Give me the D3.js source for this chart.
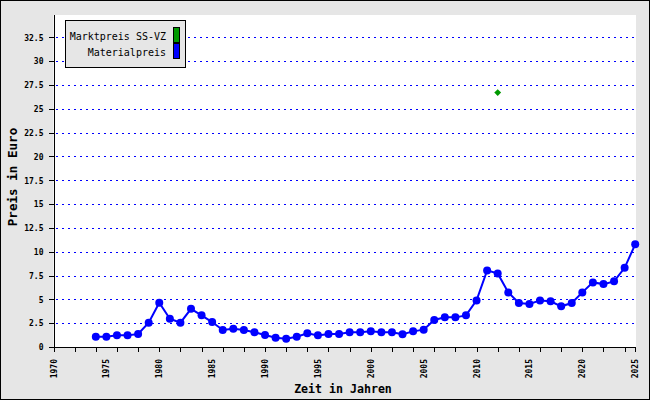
<!DOCTYPE html>
<html><head><meta charset="utf-8">
<script src="https://cdn.jsdelivr.net/npm/d3@7"></script>
<style>html,body{margin:0;padding:0;background:#fff}svg{display:block}</style>
</head><body>
<svg id="c" width="650" height="400"></svg>
<script>
const years = [1974,1975,1976,1977,1978,1979,1980,1981,1982,1983,1984,1985,1986,1987,1988,1989,1990,1991,1992,1993,1994,1995,1996,1997,1998,1999,2000,2001,2002,2003,2004,2005,2006,2007,2008,2009,2010,2011,2012,2013,2014,2015,2016,2017,2018,2019,2020,2021,2022,2023,2024,2025];
const materialpreis = [1.08,1.08,1.22,1.22,1.36,2.55,4.64,2.97,2.55,4.01,3.32,2.62,1.78,1.92,1.78,1.54,1.26,0.98,0.87,1.08,1.43,1.22,1.36,1.36,1.54,1.54,1.64,1.54,1.54,1.33,1.64,1.82,2.83,3.11,3.11,3.32,4.89,8.04,7.72,5.73,4.61,4.51,4.89,4.79,4.27,4.61,5.73,6.78,6.60,6.89,8.31,10.77];
const marktYears = [2012];
const marktpreis = [26.7];
const yTicks = [0,2.5,5,7.5,10,12.5,15,17.5,20,22.5,25,27.5,30,32.5];
const xLabels = [1970,1975,1980,1985,1990,1995,2000,2005,2010,2015,2020,2025];
const xTicks = [1970,1972,1974,1976,1978,1980,1982,1984,1986,1988,1990,1992,1994,1996,1998,2000,2002,2004,2006,2008,2010,2012,2014,2016,2018,2020,2022,2024,2025];
const seriesNames = ["Marktpreis SS-VZ","Materialpreis"];
const seriesColors = ["#009900","#0000ff"];

const svg = d3.select("#c");
const W = 650, H = 400;
const L = 53.5, R = 636, T = 15, B = 347;
const x = d3.scaleLinear().domain([1970,2025]).range([L, 635.2]);
const y = d3.scaleLinear().domain([0,34.84]).range([B, T]);
const mono = "'DejaVu Sans Mono', 'Liberation Mono', monospace";

svg.append("rect").attr("x",0.5).attr("y",0.5).attr("width",W-1).attr("height",H-1)
  .attr("fill","#e6e6e6").attr("stroke","#000").attr("stroke-width",1);
svg.append("rect").attr("x",L).attr("y",T).attr("width",R-L).attr("height",B-T).attr("fill","#fff");

// grid
svg.append("g").selectAll("line").data(yTicks.filter(d=>d>0)).join("line")
  .attr("x1",L+2).attr("x2",R).attr("y1",d=>Math.round(y(d))+0.5).attr("y2",d=>Math.round(y(d))+0.5)
  .attr("stroke","#0000ff").attr("stroke-width",1).attr("stroke-dasharray","2,4").attr("shape-rendering","crispEdges");

// y axis
const ya = svg.append("g").attr("transform",`translate(${L},0)`)
  .call(d3.axisLeft(y).tickValues(yTicks).tickSize(5).tickSizeOuter(0).tickFormat(d=>String(d)));
ya.select(".domain").attr("stroke","#000").attr("d",`M0.5,${T}V${B+0.5}`).attr("shape-rendering","crispEdges");
ya.selectAll(".tick line").attr("stroke","#000").attr("shape-rendering","crispEdges");
ya.selectAll(".tick text").attr("font-family",mono).attr("font-size",8).attr("font-weight","bold").attr("fill","#000").attr("x",-10).attr("dy","0.35em");

// x axis
const xa = svg.append("g").attr("transform",`translate(0,${B})`)
  .call(d3.axisBottom(x).tickValues(xTicks).tickSize(5).tickSizeOuter(0).tickFormat(""));
xa.select(".domain").attr("stroke","#000").attr("d",`M${L},0.5H${R}`).attr("shape-rendering","crispEdges");
xa.selectAll(".tick line").attr("stroke","#000").attr("shape-rendering","crispEdges");

svg.append("g").selectAll("text").data(xLabels).join("text")
  .attr("transform",d=>`translate(${x(d)+3},359) rotate(-90)`)
  .attr("text-anchor","end").attr("font-family",mono).attr("font-size",8).attr("font-weight","bold")
  .text(d=>d);

// titles
svg.append("text").attr("x",343).attr("y",393).attr("text-anchor","middle")
  .attr("font-family",mono).attr("font-size",11.6).attr("font-weight","bold").text("Zeit in Jahren");
svg.append("text").attr("transform","translate(17,177) rotate(-90)").attr("text-anchor","middle")
  .attr("font-family",mono).attr("font-size",12.6).attr("font-weight","bold").text("Preis in Euro");

// line
const pts = years.map((yr,i)=>[yr,materialpreis[i]]);
svg.append("path").datum(pts).attr("fill","none").attr("stroke","#0000ff").attr("stroke-width",2)
  .attr("d",d3.line().x(d=>x(d[0])).y(d=>y(d[1])));
svg.append("g").selectAll("circle").data(pts).join("circle")
  .attr("cx",d=>x(d[0])).attr("cy",d=>y(d[1])).attr("r",4).attr("fill","#0000ff");

// markt diamonds
svg.append("g").selectAll("path").data(marktYears.map((yr,i)=>[yr,marktpreis[i]])).join("path")
  .attr("d",d3.symbol(d3.symbolDiamond2,30)).attr("transform",d=>`translate(${x(d[0])},${y(d[1])})`)
  .attr("fill","#009900");

// legend
const lg = svg.append("g");
lg.append("rect").attr("x",65.5).attr("y",20.5).attr("width",120).attr("height",47)
  .attr("fill","#e6e6e6").attr("stroke","#000");
seriesNames.forEach((n,i)=>{
  lg.append("text").attr("x",166).attr("y",36.5+16*i).attr("dy","0.35em").attr("text-anchor","end")
    .attr("font-family",mono).attr("font-size",10).text(n);
  lg.append("rect").attr("x",173.5).attr("y",27.5+16*i).attr("width",6).attr("height",15)
    .attr("fill",seriesColors[i]).attr("stroke","#000");
});
</script>
</body></html>
